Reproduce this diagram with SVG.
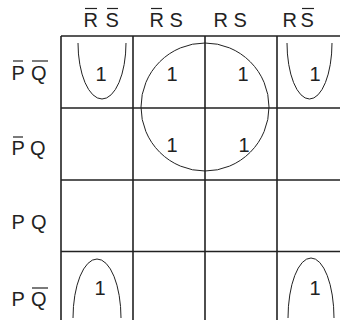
<svg xmlns="http://www.w3.org/2000/svg" width="340" height="320" viewBox="0 0 340 320">
<style>
text{font-family:"Liberation Sans",Arial,sans-serif;font-size:20px;fill:#222}
.g{stroke:#222;stroke-width:1.6;fill:none}
.c{stroke:#222;stroke-width:1;fill:none}
.b{stroke:#222;stroke-width:1.2}
.one{text-anchor:middle}
</style>
<rect width="340" height="320" fill="#fff"/>
<g id="grid">
<path class="g" d="M61,36H340M61,108H340M61,180H340M61,251.5H340M61,36V320M133,36V320M205,36V320M277,36V320"/>
</g>
<g id="headers">
<text x="83.5" y="27">R</text><text x="105.5" y="27">S</text>
<line class="b" x1="85" y1="8.5" x2="97" y2="8.5"/><line class="b" x1="107" y1="8.5" x2="118" y2="8.5"/>
<text x="149.5" y="27">R</text><text x="169.5" y="27">S</text>
<line class="b" x1="151" y1="8.5" x2="162" y2="8.5"/>
<text x="213.5" y="27">R</text><text x="233.5" y="27">S</text>
<text x="282.5" y="27">R</text><text x="300.5" y="27">S</text>
<line class="b" x1="302" y1="8.5" x2="314" y2="8.5"/>
</g>
<g id="rowlabels">
<text x="11.5" y="80">P</text><text x="31" y="80">Q</text>
<line class="b" x1="13" y1="61" x2="23" y2="61"/><line class="b" x1="32" y1="61" x2="48" y2="61"/>
<text x="11.5" y="155">P</text><text x="30" y="155">Q</text>
<line class="b" x1="13" y1="137" x2="23" y2="137"/>
<text x="11.5" y="229">P</text><text x="31" y="229">Q</text>
<text x="11.5" y="306">P</text><text x="31" y="306">Q</text>
<line class="b" x1="32" y1="288" x2="48" y2="288"/>
</g>
<g id="ones">
<text class="one" x="101" y="81">1</text>
<text class="one" x="172" y="81">1</text>
<text class="one" x="243" y="81">1</text>
<text class="one" x="315" y="81">1</text>
<text class="one" x="172" y="152">1</text>
<text class="one" x="244" y="152">1</text>
<text class="one" x="100" y="295">1</text>
<text class="one" x="315" y="295">1</text>
</g>
<g id="loops">
<circle class="c" cx="205" cy="107" r="64"/>
<path class="c" d="M78,43 A24,56 0 0 0 126,43"/>
<path class="c" d="M287,43 A22.5,56 0 0 0 332,43"/>
<path class="c" d="M73,318 A24,59 0 0 1 121,318"/>
<path class="c" d="M288,318 A23,60 0 0 1 334,318"/>
</g>
</svg>
